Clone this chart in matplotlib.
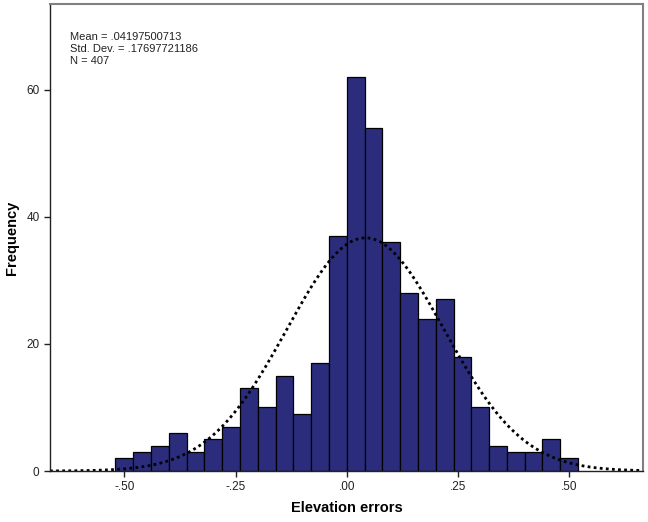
import numpy as np
import matplotlib.pyplot as plt

plt.rcParams['font.family'] = ['Liberation Sans', 'DejaVu Sans']

# histogram bins (width .04) and counts
bin_edges = [round(-0.52 + 0.04 * i, 2) for i in range(27)]
counts = [2, 3, 4, 6, 3, 5, 7, 13, 10, 15, 9, 17, 37,
          62, 54, 36, 28, 24, 27, 18, 10, 4, 3, 3, 5, 2]
mean = 0.04197500713
std_dev = 0.17697721186
n_total = 407
x_ticks = [-0.50, -0.25, 0.00, 0.25, 0.50]
x_tick_labels = ['-.50', '-.25', '.00', '.25', '.50']
y_ticks = [0, 20, 40, 60]

fig = plt.figure(figsize=(6.48, 5.22), dpi=100)
ax = fig.add_axes([0.0772, 0.0977, 0.9151, 0.8946])

lefts = bin_edges[:-1]
widths = np.diff(bin_edges)
ax.bar(lefts, counts, width=widths, align='edge', color='#2b2d7c',
       edgecolor='black', linewidth=0.9)

# normal curve scaled to counts
xs = np.linspace(-0.667, 0.667, 400)
bw = bin_edges[1] - bin_edges[0]
ys = n_total * bw / (std_dev * np.sqrt(2 * np.pi)) * np.exp(-0.5 * ((xs - mean) / std_dev) ** 2)
ax.plot(xs, ys, color='black', linestyle=(0, (1, 1.2)), linewidth=2)

ax.set_xlim(-0.667, 0.666)
ax.set_ylim(0, 73.5)
ax.set_xticks(x_ticks)
ax.set_xticklabels(x_tick_labels)
ax.set_yticks(y_ticks)
ax.tick_params(axis='both', direction='out', length=4, width=1, labelsize=8.5, colors='#222222')

for side in ['top', 'right']:
    ax.spines[side].set_color('#808080')
    ax.spines[side].set_linewidth(1.5)
for side in ['left', 'bottom']:
    ax.spines[side].set_color('#222222')
    ax.spines[side].set_linewidth(1)

ax.set_xlabel('Elevation errors', fontsize=10.5, fontweight='bold', va='center')
ax.set_ylabel('Frequency', fontsize=10.5, fontweight='bold', va='center')
ax.xaxis.set_label_coords(0.5, -0.079)
ax.yaxis.set_label_coords(-0.064, 0.5)

stats_text = 'Mean = .04197500713\nStd. Dev. = .17697721186\nN = 407'
fig.text(70 / 648, 1 - 32 / 522, stats_text, fontsize=8, va='top', ha='left',
         linespacing=1.25, color='#222222')

fig.savefig('out.png', dpi=100)
